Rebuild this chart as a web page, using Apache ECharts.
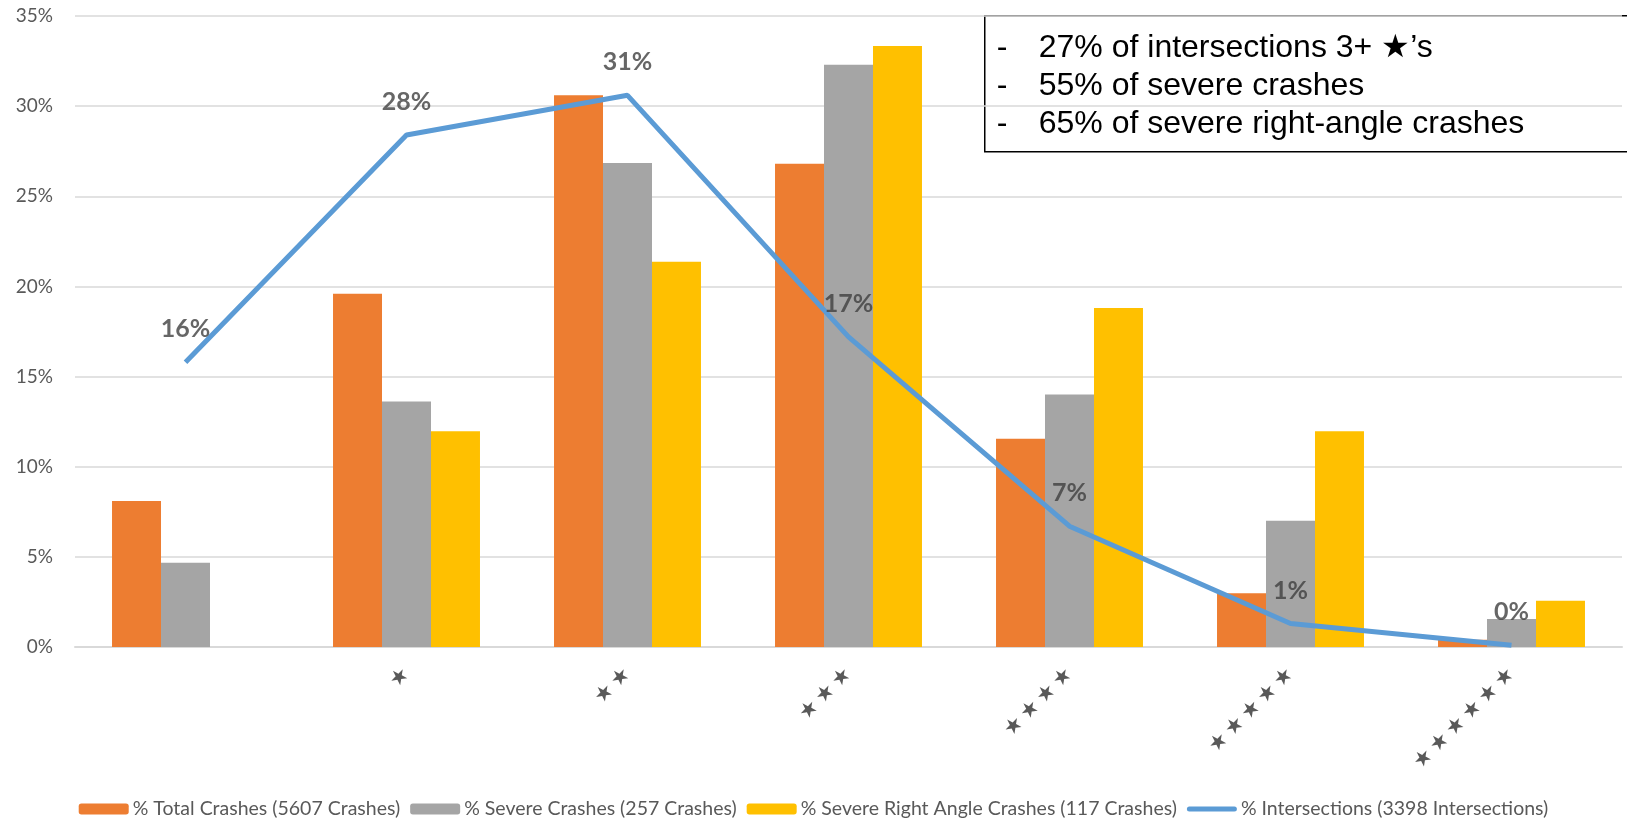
<!DOCTYPE html>
<html>
<head>
<meta charset="utf-8">
<script src="https://cdn.jsdelivr.net/npm/echarts@6/dist/echarts.min.js"></script>
<style>
  html, body { margin: 0; padding: 0; background: #fff; }
  #chart { width: 1627px; height: 820px; }
</style>
</head>
<body>
<div id="chart"></div>
<script>
// Star rating categories (first bucket has no stars)
const categories = ['', '★', '★★', '★★★', '★★★★', '★★★★★', '★★★★★★'];

// Share of each star bucket, in percent
const totalCrashes = [8.1, 19.6, 30.6, 26.8, 11.55, 2.98, 0.4];
const severeCrashes = [4.67, 13.62, 26.85, 32.30, 14.01, 7.00, 1.56];
const severeRightAngle = [0, 11.97, 21.37, 33.33, 18.80, 11.97, 2.56];
const intersections = [15.8, 28.4, 30.6, 17.2, 6.7, 1.3, 0.1];

const seriesNames = [
  '% Total Crashes (5607 Crashes)',
  '% Severe Crashes (257 Crashes)',
  '% Severe Right Angle Crashes (117 Crashes)',
  '% Intersections (3398 Intersections)'
];

const yTicks = { min: 0, max: 35, interval: 5 };

const noteLines = [
  '27% of intersections 3+ ★’s',
  '55% of severe crashes',
  '65% of severe right-angle crashes'
];

const chart = echarts.init(document.getElementById('chart'), null, { renderer: 'canvas' });

const uiFont = 'Lato, "Open Sans", sans-serif';
const noteFont = '32px "Liberation Sans", Arial, sans-serif';

// Callout box in the top-right corner
const noteChildren = [{
  type: 'rect',
  shape: { x: 0, y: 0, width: 660, height: 136 },
  style: { fill: '#ffffff', stroke: '#000000', lineWidth: 1.5 }
}];
noteLines.forEach(function (line, i) {
  const y = 32 + i * 38;
  noteChildren.push({
    type: 'text',
    style: { x: 12, y: y, text: '-', font: noteFont, fill: '#000', verticalAlign: 'middle' }
  });
  noteChildren.push({
    type: 'text',
    style: { x: 54, y: y, text: line, font: noteFont, fill: '#000', verticalAlign: 'middle' }
  });
});

const barBase = {
  type: 'bar',
  barGap: '0%',
  barCategoryGap: '33.5%'
};

// Rounded stroke used as the legend marker of the line series
const lineIcon = 'path://M2.5,0 L47.5,0 A2.5,2.5 0 0 1 47.5,5 L2.5,5 A2.5,2.5 0 0 1 2.5,0 Z';

chart.setOption({
  animation: false,
  backgroundColor: '#ffffff',
  grid: { left: 75, right: 5, top: 16, bottom: 173, containLabel: false },
  legend: {
    top: 794,
    left: 'center',
    itemWidth: 50,
    itemHeight: 11,
    itemGap: 10,
    symbolKeepAspect: true,
    textStyle: { fontFamily: uiFont, fontSize: 19.5, color: '#595959', padding: [0, 0, 0, -1] },
    data: [
      { name: seriesNames[0] },
      { name: seriesNames[1] },
      { name: seriesNames[2] },
      { name: seriesNames[3], icon: lineIcon }
    ]
  },
  xAxis: {
    type: 'category',
    data: categories,
    axisTick: { show: false },
    axisLine: { lineStyle: { color: '#d9d9d9', width: 2 } },
    axisLabel: {
      rotate: 45,
      margin: 24,
      interval: 0,
      fontFamily: '"DejaVu Sans", sans-serif',
      fontSize: 21,
      color: '#595959',
      formatter: function (v) { return v.split('').join('\u2009'); }
    }
  },
  yAxis: {
    type: 'value',
    min: yTicks.min,
    max: yTicks.max,
    interval: yTicks.interval,
    axisLine: { show: false },
    axisTick: { show: false },
    splitLine: { lineStyle: { color: '#d9d9d9', width: 1.5 } },
    axisLabel: {
      margin: 22,
      fontFamily: uiFont,
      fontSize: 19,
      color: '#595959',
      formatter: '{value}%'
    }
  },
  series: [
    Object.assign({}, barBase, { name: seriesNames[0], data: totalCrashes, itemStyle: { color: '#ED7D31' } }),
    Object.assign({}, barBase, { name: seriesNames[1], data: severeCrashes, itemStyle: { color: '#A5A5A5' } }),
    Object.assign({}, barBase, { name: seriesNames[2], data: severeRightAngle, itemStyle: { color: '#FFC000' } }),
    {
      name: seriesNames[3],
      type: 'line',
      data: intersections,
      symbol: 'none',
      z: 5,
      lineStyle: { color: '#5B9BD5', width: 5 },
      itemStyle: { color: '#5B9BD5' }
    },
    {
      // value labels for the intersection line
      type: 'scatter',
      data: intersections,
      symbol: 'circle',
      symbolSize: 1,
      silent: true,
      z: 6,
      itemStyle: { color: 'rgba(0,0,0,0)' },
      label: {
        show: true,
        position: 'top',
        distance: 20,
        fontFamily: uiFont,
        fontWeight: 'bold',
        fontSize: 25,
        color: '#404040',
        formatter: function (p) { return Math.round(p.value) + '%'; }
      }
    }
  ],
  graphic: [{
    type: 'group',
    left: 984,
    top: 15,
    z: 100,
    children: noteChildren
  }]
});
</script>
</body>
</html>
